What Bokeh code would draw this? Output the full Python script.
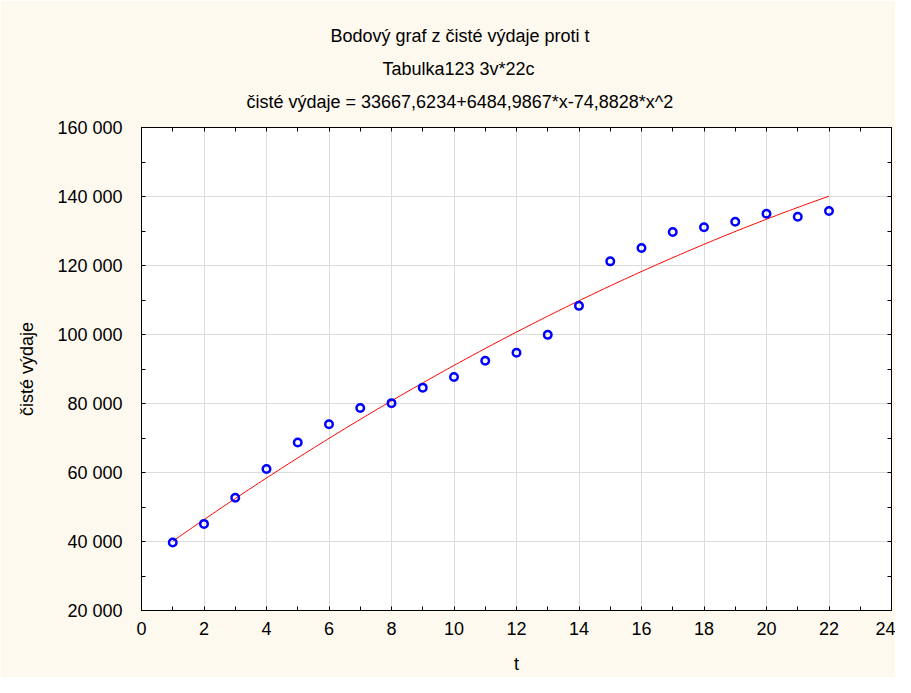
from bokeh.plotting import figure
from bokeh.models import Range1d, FixedTicker, LinearAxis, Title
from bokeh.embed import file_html
from bokeh.resources import INLINE
import numpy as np

# ---- data ----
t_values = list(range(1, 23))
vydaje = [39700, 45100, 52700, 61000, 68700, 74000, 78700, 80100, 84600, 87700,
          92400, 94700, 99900, 108300, 121200, 125050, 129700, 131100, 132700,
          135000, 134150, 135800]
# fitted quadratic from the chart subtitle: c0 + c1*x + c2*x^2
fit_coef = [33667.6234, 6484.9867, -74.8828]

x_ticks = [0, 2, 4, 6, 8, 10, 12, 14, 16, 18, 20, 22, 24]
x_minor = [1, 3, 5, 7, 9, 11, 13, 15, 17, 19, 21, 23]
y_ticks = [20000, 40000, 60000, 80000, 100000, 120000, 140000, 160000]
y_minor = [30000, 50000, 70000, 90000, 110000, 130000, 150000]
y_tick_labels = ["20 000", "40 000", "60 000", "80 000", "100 000", "120 000",
                 "140 000", "160 000"]

title_lines = ["Bodový graf z čisté výdaje proti t",
               "Tabulka123 3v*22c",
               "čisté výdaje = 33667,6234+6484,9867*x-74,8828*x^2"]
# left offsets of each title line from the plot frame's left edge (px)
title_offsets = [189, 241, 105]
x_label = "t"
y_label = "čisté výdaje"

FONT = "Liberation Sans"
FS = "18px"
BG = "#FEF9EF"
GRID = "#DCDCDC"

p = figure(width=895, height=677, output_backend="svg", toolbar_location=None,
           x_range=Range1d(0, 24), y_range=Range1d(20000, 160000),
           min_border_left=141, min_border_right=4, min_border_top=127,
           min_border_bottom=67,
           background_fill_color="white", border_fill_color=BG,
           outline_line_color="black", outline_line_width=1)

# axes
xa = p.xaxis[0]
xa.ticker = FixedTicker(ticks=x_ticks, minor_ticks=x_minor)
xa.axis_label = x_label
ya = p.yaxis[0]
ya.ticker = FixedTicker(ticks=y_ticks, minor_ticks=y_minor)
ya.axis_label = y_label
ya.major_label_overrides = dict(zip(y_ticks, y_tick_labels))

for ax in (xa, ya):
    ax.axis_line_color = "black"
    ax.major_tick_in = 4
    ax.major_tick_out = 0
    ax.minor_tick_in = 4
    ax.minor_tick_out = 0
    ax.major_tick_line_color = "black"
    ax.minor_tick_line_color = "black"
    ax.major_label_text_font = FONT
    ax.major_label_text_font_size = FS
    ax.major_label_text_color = "black"
    ax.axis_label_text_font = FONT
    ax.axis_label_text_font_size = FS
    ax.axis_label_text_font_style = "normal"
    ax.axis_label_text_color = "black"

xa.major_label_standoff = 11
xa.axis_label_standoff = 16
ya.major_label_standoff = 19
ya.axis_label_standoff = 17

# extra inward-tick axes on top and right
for loc, tk, mn in (("above", x_ticks, x_minor), ("right", y_ticks, y_minor)):
    ax = LinearAxis(ticker=FixedTicker(ticks=tk, minor_ticks=mn),
                    major_label_overrides={v: "" for v in tk},
                    major_label_standoff=0, major_label_text_font_size="1px",
                    major_tick_in=4, major_tick_out=0,
                    minor_tick_in=4, minor_tick_out=0,
                    axis_line_color="black", major_tick_line_color="black",
                    minor_tick_line_color="black")
    p.add_layout(ax, loc)

# small spacer between the frame and the title block
p.add_layout(Title(text=" ", text_font_size="1px", standoff=7), "above")

# titles (added bottom line first: nearest to the frame)
for txt, off in reversed(list(zip(title_lines, title_offsets))):
    p.add_layout(Title(text=txt, align="left", offset=off, standoff=11,
                       text_font=FONT, text_font_size=FS, text_font_style="normal",
                       text_color="black"), "above")

# grid
p.xgrid.ticker = FixedTicker(ticks=x_ticks)
p.ygrid.ticker = FixedTicker(ticks=y_ticks)
p.xgrid.grid_line_color = GRID
p.ygrid.grid_line_color = GRID
p.xgrid.grid_line_width = 1
p.ygrid.grid_line_width = 1

# fit curve
tt = np.linspace(t_values[0], t_values[-1], 200)
yy = fit_coef[0] + fit_coef[1] * tt + fit_coef[2] * tt ** 2
p.line(tt, yy, line_color="#FF0000", line_width=1)

# data points
p.scatter(t_values, vydaje, marker="circle", size=7.5, line_color="#0000FF",
          line_width=2.5, fill_color=None)

open("out.html", "w").write(file_html(p, INLINE))
